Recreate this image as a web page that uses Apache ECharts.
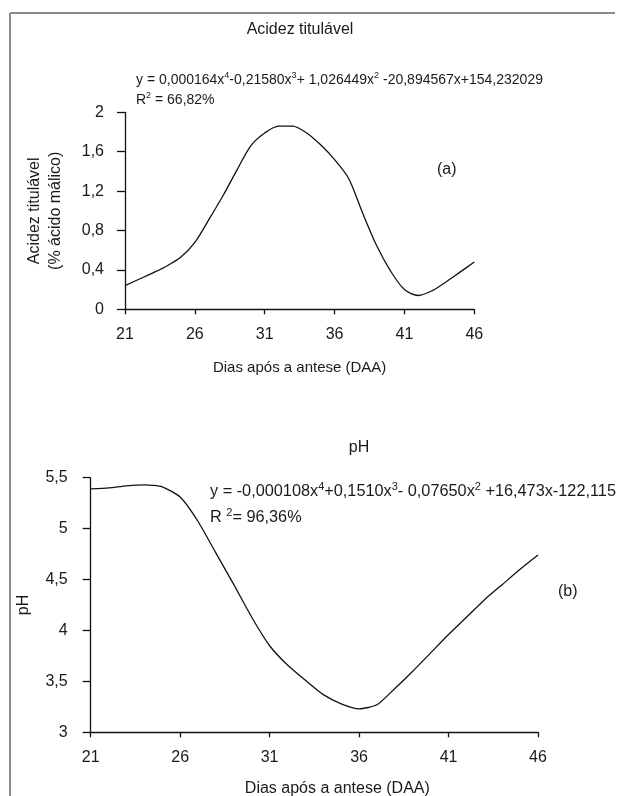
<!DOCTYPE html>
<html>
<head>
<meta charset="utf-8">
<script src="https://cdn.jsdelivr.net/npm/echarts@6/dist/echarts.min.js"></script>
<style>html,body{margin:0;padding:0;background:#fff}#c{width:625px;height:796px}</style>
</head>
<body>
<div id="c"></div>
<script>
// ---- data ----
const days = [21,22,23,24,25,26,27,28,29,30,31,32,33,34,35,36,37,38,39,40,41,42,43,44,45,46];
const acidez = [0.24,0.305,0.37,0.44,0.53,0.68,0.91,1.15,1.41,1.66,1.79,1.86,1.86,1.79,1.67,1.52,1.33,0.98,0.65,0.39,0.20,0.14,0.19,0.28,0.38,0.48];
const ph = [5.39,5.40,5.42,5.43,5.41,5.31,5.07,4.76,4.45,4.13,3.85,3.66,3.51,3.37,3.28,3.23,3.27,3.43,3.60,3.78,3.96,4.13,4.30,4.45,4.60,4.74];
const xTicks = [21,26,31,36,41,46];
const acidezTicks = [0,0.4,0.8,1.2,1.6,2];
const phTicks = [3,3.5,4,4.5,5,5.5];

const FONT = 'Liberation Sans, Arial, sans-serif';
const TXT = '#1a1a1a';
const fmt = v => String(+(+v).toFixed(2)).replace('.', ',');

const chart = echarts.init(document.getElementById('c'), null, {renderer: 'canvas'});

function xAxis(gridIndex, gap, padding, fs) {
  return {
    type: 'value', gridIndex, min: xTicks[0], max: xTicks[xTicks.length-1], interval: 5,
    axisLine: {lineStyle: {color: '#111', width: 1.3}},
    axisTick: {show: true, length: 5, lineStyle: {color: '#111', width: 1.3}},
    axisLabel: {margin: 17, color: TXT, fontSize: 16, fontFamily: FONT, formatter: fmt},
    splitLine: {show: false},
    name: 'Dias após a antese (DAA)', nameLocation: 'middle', nameGap: gap,
    nameTextStyle: {color: TXT, fontSize: fs, fontFamily: FONT, padding: padding}
  };
}
function yAxis(gridIndex, min, max, interval, name, gap, margin) {
  return {
    type: 'value', gridIndex, min, max, interval,
    axisLine: {show: true, lineStyle: {color: '#111', width: 1.3}},
    axisTick: {show: true, length: 8, lineStyle: {color: '#111', width: 1.3}},
    axisLabel: {margin: margin, color: TXT, fontSize: 16, fontFamily: FONT, formatter: fmt},
    splitLine: {show: false},
    name, nameLocation: 'middle', nameGap: gap,
    nameTextStyle: {color: TXT, fontSize: 16, fontFamily: FONT, lineHeight: 21}
  };
}

function richOf(fs) {
  return {
    n: {fontSize: fs, fontFamily: FONT, color: TXT, lineHeight: fs + 4},
    s: {fontSize: Math.round(fs * 0.65), fontFamily: FONT, color: TXT, lineHeight: 10, verticalAlign: 'top'}
  };
}
function txt(x, y, text, fs, extra) {
  return {type: 'text', x, y, silent: true,
    style: Object.assign({text, rich: richOf(fs), fill: TXT, font: fs + 'px ' + FONT, verticalAlign: 'middle'}, extra || {})};
}

chart.setOption({
  animation: false,
  grid: [
    {left: 125, width: 349.3, top: 112.3, height: 197, containLabel: false, outerBoundsMode: 'none'},
    {left: 90.7, width: 447.3, top: 477.7, height: 254.6, containLabel: false, outerBoundsMode: 'none'}
  ],
  xAxis: [xAxis(0, 51, 0, 15), xAxis(1, 48, [0,0,0,46], 16)],
  yAxis: [
    yAxis(0, 0, 2, 0.4, 'Acidez titulável\n(% ácido málico)', 59, 21),
    yAxis(1, 3, 5.5, 0.5, 'pH', 50, 23)
  ],
  series: [
    {type: 'line', xAxisIndex: 0, yAxisIndex: 0, smooth: 0.3, symbol: 'none',
     lineStyle: {color: '#111', width: 1.3}, data: days.map((d,i) => [d, acidez[i]])},
    {type: 'line', xAxisIndex: 1, yAxisIndex: 1, smooth: 0.2, symbol: 'none',
     lineStyle: {color: '#111', width: 1.3}, data: days.map((d,i) => [d, ph[i]])}
  ],
  graphic: [
    {type: 'line', silent: true, shape: {x1: 10, y1: 13, x2: 615, y2: 13}, style: {stroke: '#8c8c8c', lineWidth: 2}},
    {type: 'line', silent: true, shape: {x1: 10, y1: 13, x2: 10, y2: 796}, style: {stroke: '#8c8c8c', lineWidth: 2}},
    txt(300, 30, 'Acidez titulável', 16, {align: 'center'}),
    txt(136, 80, '{n|y = 0,000164x}{s|4}{n|-0,21580x}{s|3}{n|+ 1,026449x}{s|2}{n| -20,894567x+154,232029}', 14),
    txt(136, 100, '{n|R}{s|2}{n| = 66,82%}', 14),
    txt(437, 170, '(a)', 16),
    txt(359, 448, 'pH', 16, {align: 'center'}),
    txt(210, 492, '{n|y = -0,000108x}{s|4}{n|+0,1510x}{s|3}{n|- 0,07650x}{s|2}{n| +16,473x-122,115}', 16.3),
    txt(210, 518, '{n|R }{s|2}{n|= 96,36%}', 16.3),
    txt(558, 592, '(b)', 16)
  ]
});
</script>
</body>
</html>
